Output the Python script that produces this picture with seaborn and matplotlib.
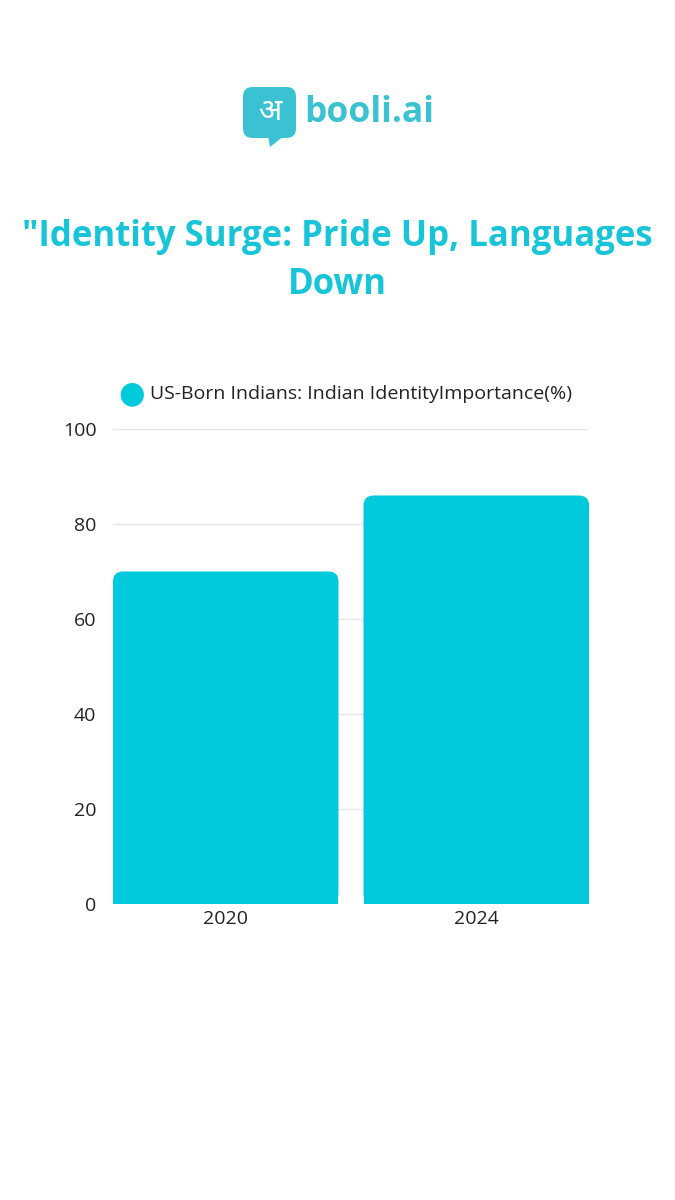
# Bar chart: US-born Indians, Indian identity importance
import seaborn as sns
import matplotlib.pyplot as plt
import pandas as pd
from matplotlib.patches import FancyBboxPatch, Rectangle, Polygon

years = ["2020", "2024"]
importance = [70, 86]
series_label = "US-Born Indians: Indian IdentityImportance(%)"
title_text = "\"Identity Surge: Pride Up, Languages\nDown"
yticks = [0, 20, 40, 60, 80, 100]

bar_color = "#00C9DB"
title_color = "#18C4D8"
logo_color = "#3BC2D2"

sns.set_theme(style="white")
plt.rcParams['font.family'] = ['Open Sans', 'DejaVu Sans']

data = pd.DataFrame({"year": years, "value": importance})

fig = plt.figure(figsize=(6.75, 12), dpi=100)
ax = fig.add_axes([0.1674, 0.2467, 0.7052, 0.3958])

sns.barplot(data=data, x="year", y="value", color=bar_color,
            width=0.9, saturation=1, ax=ax)

# swap square bars for ones with rounded top corners
for p in list(ax.patches):
    x, y0 = p.get_x(), p.get_y()
    w, h = p.get_width(), p.get_height()
    p.remove()
    r = 0.04
    ax.add_patch(FancyBboxPatch((x, y0), w, h,
                                boxstyle=f"round,pad=0,rounding_size={r}",
                                mutation_aspect=52, fc=bar_color, ec="none",
                                zorder=3))
    ax.add_patch(Rectangle((x, y0), w, h / 2, fc=bar_color, ec="none",
                           zorder=3))

ax.set_xlim(-0.45, 1.45)
ax.set_ylim(0, 100)
ax.set_yticks(yticks)
ax.yaxis.grid(True, color="#e6e6e6", linewidth=1)
ax.set_axisbelow(True)
for s in ax.spines.values():
    s.set_visible(False)
ax.set_xlabel("")
ax.set_ylabel("")
ax.tick_params(axis="both", length=0, labelsize=14, labelcolor="#222222")
ax.tick_params(axis="y", pad=12)
ax.tick_params(axis="x", pad=4)

# legend
fig.text(0.195, 1 - 394 / 1200, "\u25CF", color=bar_color, fontsize=22,
         ha="center", va="center", family=['DejaVu Sans'])
fig.text(0.222, 1 - 394 / 1200, series_label, color="#222222",
         fontsize=14, ha="left", va="center")

# title
fig.text(0.5, 1 - 261 / 1200, title_text, color=title_color, fontsize=25,
         fontweight="bold", ha="center", va="center", linespacing=1.45)

# logo
fig.patches.append(FancyBboxPatch((243 / 675, 1 - 138 / 1200), 53 / 675, 51 / 1200,
                                  boxstyle="round,pad=0,rounding_size=0.014",
                                  transform=fig.transFigure, fc=logo_color,
                                  ec="none", mutation_aspect=675 / 1200))
fig.patches.append(Polygon([(268 / 675, 1 - 136 / 1200), (284 / 675, 1 - 136 / 1200),
                            (270 / 675, 1 - 147 / 1200)],
                           closed=True, transform=fig.transFigure,
                           fc=logo_color, ec="none"))
fig.text(269.5 / 675, 1 - 112 / 1200, "\u0905", color="white", fontsize=22,
         fontweight="bold", ha="center", va="center",
         family=['Noto Sans', 'DejaVu Sans'])
fig.text(304 / 675, 1 - 113 / 1200, "booli.ai", color=logo_color,
         fontsize=25.5, fontweight="bold", ha="left", va="center")

plt.savefig("out.png", dpi=100, facecolor="white")
